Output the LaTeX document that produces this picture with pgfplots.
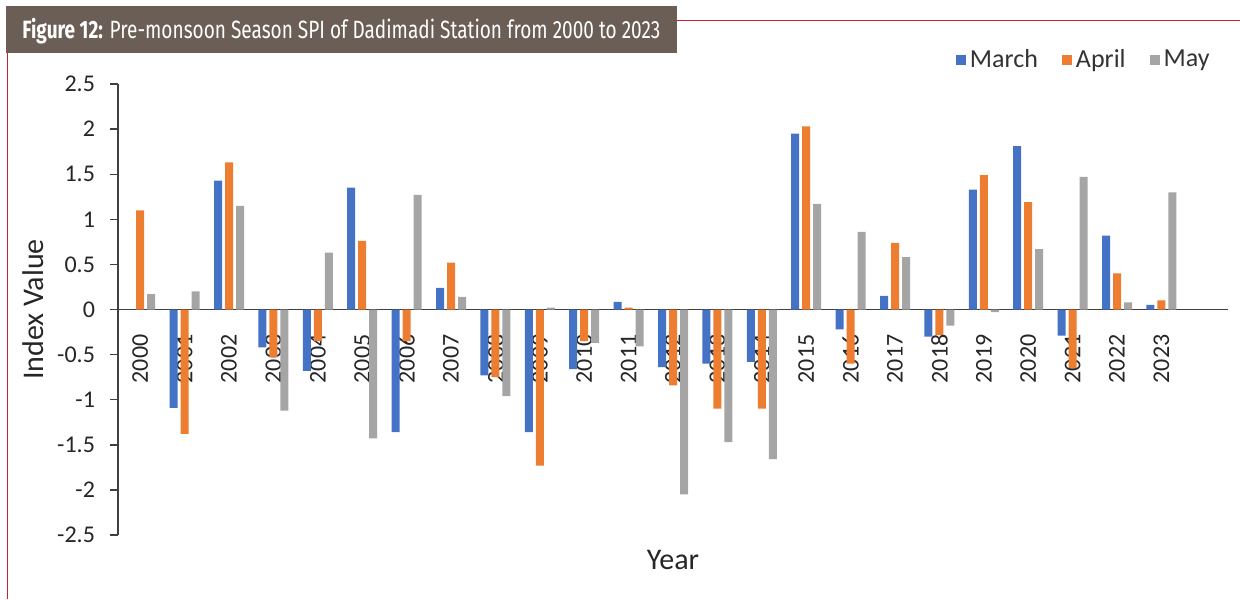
\documentclass[border=0pt]{standalone}
\usepackage{pgfplots}
\pgfplotsset{compat=1.18}
\usepackage{pgfplotstable}
\usepackage{graphicx}
\usepackage{fontspec}
\setmainfont{Carlito}
\newfontfamily\titlefont{Fira Sans}
\definecolor{xblue}{HTML}{4472C4}
\definecolor{xorange}{HTML}{ED7D31}
\definecolor{xgray}{HTML}{A5A5A5}
\definecolor{boxbrown}{HTML}{6B5E56}
\definecolor{linered}{HTML}{C8202F}
\definecolor{txt}{HTML}{404040}

\pgfplotstableread{
x March April May
0 0 1.10 0.17
1 -1.09 -1.38 0.20
2 1.43 1.63 1.15
3 -0.42 -0.53 -1.12
4 -0.68 -0.35 0.63
5 1.35 0.76 -1.43
6 -1.36 -0.35 1.27
7 0.24 0.52 0.14
8 -0.73 -0.75 -0.96
9 -1.36 -1.73 0.02
10 -0.66 -0.35 -0.37
11 0.085 0.02 -0.41
12 -0.64 -0.84 -2.05
13 -0.60 -1.10 -1.47
14 -0.58 -1.10 -1.66
15 1.95 2.03 1.17
16 -0.22 -0.60 0.86
17 0.15 0.74 0.58
18 -0.30 -0.28 -0.18
19 1.33 1.49 -0.03
20 1.81 1.19 0.67
21 -0.29 -0.65 1.47
22 0.82 0.40 0.08
23 0.05 0.10 1.30
}\spi

\begin{document}
\begin{tikzpicture}
\path[use as bounding box] (0,0) rectangle (620pt,-299.5pt);
% title box and frame lines
\fill[boxbrown] (3pt,-3pt) rectangle (338.5pt,-26.5pt);
\draw[linered, line width=0.5pt] (338.5pt,-10.5pt) -- (620pt,-10.5pt);
\draw[linered, line width=0.5pt] (3.5pt,-26.5pt) -- (3.5pt,-299.5pt);
\node[anchor=west, text=white, inner sep=0pt] at (11pt,-15.5pt)
  {\resizebox{319pt}{\height}{\titlefont\fontsize{12.5pt}{14pt}\selectfont\textbf{Figure 12:} Pre-monsoon Season SPI of Dadimadi Station from 2000 to 2023}};
\begin{axis}[
  at={(59pt,-267.5pt)}, anchor=south west,
  scale only axis, width=555pt, height=225.5pt,
  xmin=-0.5, xmax=24.5, ymin=-2.5, ymax=2.5,
  axis x line=middle, axis y line=left,
  axis line style={-, draw=txt, line width=0.7pt},
  ybar=1.5pt, bar width=4pt,
  xtick={0,...,23},
  xticklabels={2000,2001,2002,2003,2004,2005,2006,2007,2008,2009,2010,2011,2012,2013,2014,2015,2016,2017,2018,2019,2020,2021,2022,2023},
  xtick style={draw=none},
  xticklabel style={rotate=90, anchor=east, font=\fontsize{12pt}{14pt}\selectfont, text=black!85},
  xticklabel shift=5pt,
  ytick={-2.5,-2,-1.5,-1,-0.5,0,0.5,1,1.5,2,2.5},
  yticklabels={-2.5,-2,-1.5,-1,-0.5,0,0.5,1,1.5,2,2.5},
  ytick style={draw=txt, line width=0.7pt},
  tick align=outside, major tick length=4pt,
  yticklabel style={font=\fontsize{12pt}{14pt}\selectfont, text=black!85, xshift=-4pt},
  ylabel={Index Value},
  ylabel style={at={(axis description cs:-0.0766,0.5)}, anchor=center, font=\fontsize{15pt}{17pt}\selectfont, text=black!85},
  xlabel={Year},
  xlabel style={at={(axis description cs:0.5,0)}, anchor=center, yshift=-12.5pt, font=\fontsize{15pt}{17pt}\selectfont, text=black!85},
  legend columns=3,
  legend style={at={(axis description cs:0.871,1.053)}, anchor=center, draw=none, fill=none,
    font=\fontsize{13pt}{15pt}\selectfont, text=black!80,
    /tikz/every even column/.append style={column sep=10pt}},
  legend image code/.code={\fill[#1] (0pt,-2.5pt) rectangle (5pt,2.5pt);},
  clip=false,
]
\addplot[fill=xblue, draw=none] table[x=x, y=March] {\spi};
\addplot[fill=xorange, draw=none] table[x=x, y=April] {\spi};
\addplot[fill=xgray, draw=none] table[x=x, y=May] {\spi};
\legend{March, April, May}
\end{axis}
\end{tikzpicture}
\end{document}
